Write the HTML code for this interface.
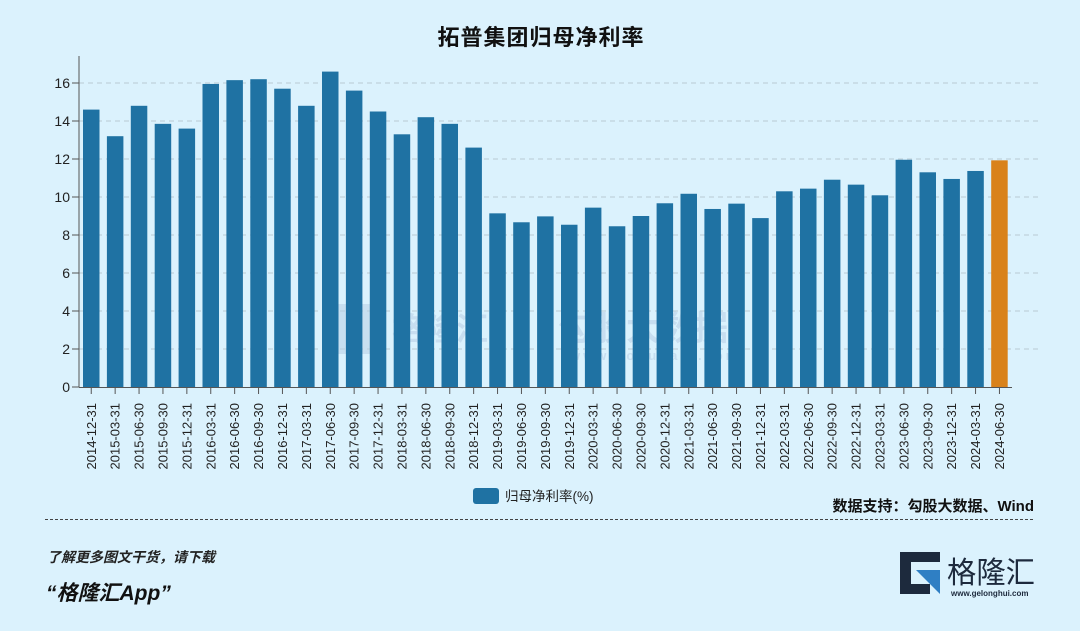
<!DOCTYPE html>
<html><head><meta charset="utf-8"><style>
html,body{margin:0;padding:0;background:#dbf2fd;}
svg{display:block;font-family:"Liberation Sans","Noto Sans CJK SC",sans-serif;}
</style></head><body>
<svg width="1080" height="631" viewBox="0 0 1080 631" xmlns="http://www.w3.org/2000/svg">
<rect width="1080" height="631" fill="#dbf2fd"/>
<text x="541" y="45" text-anchor="middle" font-size="22" font-weight="bold" fill="#111" font-family="'Liberation Sans','Noto Sans CJK SC',sans-serif" letter-spacing="1">拓普集团归母净利率</text>
<g stroke="#b9c9d3" stroke-dasharray="5,4" stroke-width="1">
<line x1="79" y1="349" x2="1040" y2="349"/><line x1="79" y1="311" x2="1040" y2="311"/>
<line x1="79" y1="273" x2="1040" y2="273"/><line x1="79" y1="235" x2="1040" y2="235"/>
<line x1="79" y1="197" x2="1040" y2="197"/><line x1="79" y1="159" x2="1040" y2="159"/>
<line x1="79" y1="121" x2="1040" y2="121"/><line x1="79" y1="83" x2="1040" y2="83"/>
</g>
<g font-size="25" font-weight="bold" fill="#b7cfe6" opacity="0.55">
<rect x="337" y="304" width="48" height="50" fill="#b7cfe6"/>
<text x="392" y="340" font-size="32">格隆汇</text>
<text x="558" y="340" font-size="34">勾股大数据</text>
<text x="570" y="360" font-size="13" letter-spacing="3">www.gogudata.com</text>
</g>
<g font-size="14" fill="#222" text-anchor="end">
<text x="70" y="392">0</text><text x="70" y="354">2</text><text x="70" y="316">4</text><text x="70" y="278">6</text>
<text x="70" y="240">8</text><text x="70" y="202">10</text><text x="70" y="164">12</text><text x="70" y="126">14</text><text x="70" y="88">16</text>
</g>
<g stroke="#555" stroke-width="1">
<line x1="72" y1="387" x2="79" y2="387"/><line x1="72" y1="349" x2="79" y2="349"/><line x1="72" y1="311" x2="79" y2="311"/>
<line x1="72" y1="273" x2="79" y2="273"/><line x1="72" y1="235" x2="79" y2="235"/><line x1="72" y1="197" x2="79" y2="197"/>
<line x1="72" y1="159" x2="79" y2="159"/><line x1="72" y1="121" x2="79" y2="121"/><line x1="72" y1="83" x2="79" y2="83"/>
</g>
<g id="bars"></g>
<line x1="79" y1="56" x2="79" y2="387" stroke="#555"/>
<line x1="79" y1="387.5" x2="1012" y2="387.5" stroke="#555"/>
<g id="ticks"></g>
<rect x="473" y="488" width="26" height="16" rx="3" fill="#1f72a3"/>
<text x="505" y="501" font-size="13.5" fill="#222">归母净利率(%)</text>
<text x="1034" y="511" text-anchor="end" font-size="15" font-weight="bold" fill="#111">数据支持：勾股大数据、Wind</text>
<line x1="45" y1="519.5" x2="1035" y2="519.5" stroke="#444" stroke-dasharray="3,2" stroke-width="1"/>
<text x="47" y="562" font-size="14" font-weight="bold" font-style="italic" fill="#222">了解更多图文干货，请下载</text>
<text x="46" y="600" font-size="21" font-weight="bold" font-style="italic" fill="#111">“格隆汇App”</text>
<path d="M900 552 H940 V562 H911 V584 H900 Z" fill="#1d2a3d"/>
<path d="M900 584 H930 V594 H900 Z" fill="#1d2a3d"/>
<path d="M916 570 H940 V594 Z" fill="#2f7fc4"/>
<text x="947" y="583" font-size="30" fill="#1d2a3d" textLength="88" lengthAdjust="spacingAndGlyphs">格隆汇</text>
<text x="951" y="596" font-size="8" font-weight="bold" fill="#1d2a3d">www.gelonghui.com</text>
</svg>
<script>
var v=[14.6,13.2,14.8,13.85,13.6,15.95,16.15,16.2,15.7,14.8,16.6,15.6,14.5,13.3,14.2,13.85,12.6,9.14,8.67,8.98,8.54,9.44,8.46,9.0,9.67,10.17,9.37,9.65,8.89,10.3,10.44,10.91,10.65,10.09,11.96,11.3,10.95,11.37,11.93];
var l=[];var q=["03-31","06-30","09-30","12-31"];l.push("2014-12-31");
for(var y=2015;y<=2024;y++)for(var k=0;k<4;k++){if(y==2024&&k>1)break;l.push(y+"-"+q[k]);}
var ns="http://www.w3.org/2000/svg",b=document.getElementById("bars"),t=document.getElementById("ticks");
for(var i=0;i<v.length;i++){var x=83+i*23.9,h=v[i]*19;
var r=document.createElementNS(ns,"rect");r.setAttribute("x",x);r.setAttribute("y",387-h);r.setAttribute("width",16.5);r.setAttribute("height",h);r.setAttribute("fill",i==38?"#d9821a":"#1f72a3");b.appendChild(r);
var c=x+8.25;var ln=document.createElementNS(ns,"line");ln.setAttribute("x1",c);ln.setAttribute("x2",c);ln.setAttribute("y1",388);ln.setAttribute("y2",394);ln.setAttribute("stroke","#555");t.appendChild(ln);
var tx=document.createElementNS(ns,"text");tx.setAttribute("transform","translate("+(c+4.5)+",403) rotate(-90)");tx.setAttribute("text-anchor","end");tx.setAttribute("font-size","13");tx.setAttribute("fill","#222");tx.textContent=l[i];t.appendChild(tx);}
</script>
</body></html>
